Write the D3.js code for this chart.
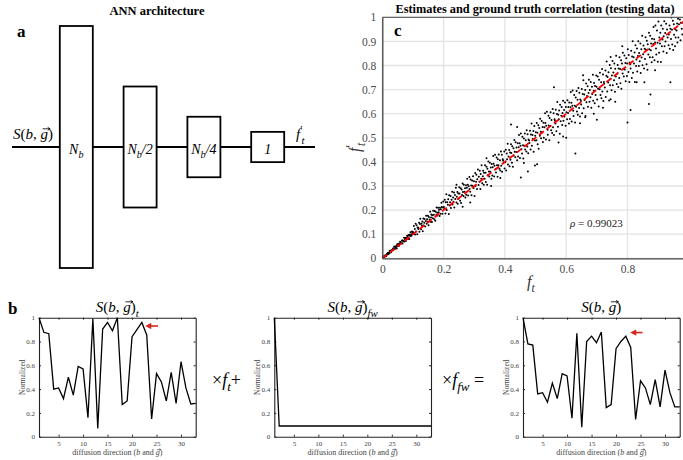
<!DOCTYPE html>
<html>
<head>
<meta charset="utf-8">
<script src="https://cdn.jsdelivr.net/npm/d3@7"></script>
<style>
body { margin: 0; background: #fff; }
svg { display: block; font-family: "Liberation Serif", "Tinos", "Times New Roman", "DejaVu Serif", serif; }
</style>
</head>
<body>
<div id="fig"></div>
<script>
var SERIF = "'Liberation Serif', 'Tinos', 'Times New Roman', 'DejaVu Serif', serif";

// ---- panel a: network layers (relative size to N_b)
var layerLabels = [
  [{ t: "N", it: 1 }, { t: "b", it: 1, sub: 1 }],
  [{ t: "N", it: 1 }, { t: "b", it: 1, sub: 1 }, { t: "/2", it: 1 }],
  [{ t: "N", it: 1 }, { t: "b", it: 1, sub: 1 }, { t: "/4", it: 1 }],
  [{ t: "1", it: 1 }]
];
var layerSize = [1, 0.5, 0.25, 0.125];

// ---- panel b: signals over 33 diffusion directions
var directions = d3.range(1, 34);
var signalT = [1.0, 0.877, 0.866, 0.40, 0.41, 0.32, 0.50, 0.35, 0.59, 0.57, 0.16, 0.99, 0.07, 0.905, 0.96, 0.89, 1.0,
  0.27, 0.30, 0.84, 0.90, 0.96, 0.855, 0.15, 0.53, 0.46, 0.30, 0.54, 0.28, 0.63, 0.41, 0.275, 0.28];
var signalFw = [1.0, 0.09, 0.09, 0.09, 0.09, 0.09, 0.09, 0.09, 0.09, 0.09, 0.09, 0.09, 0.09, 0.09, 0.09, 0.09, 0.09,
  0.09, 0.09, 0.09, 0.09, 0.09, 0.09, 0.09, 0.09, 0.09, 0.09, 0.09, 0.09, 0.09, 0.09, 0.09, 0.09];
var signalMix = [1.0, 0.78, 0.77, 0.36, 0.37, 0.29, 0.45, 0.32, 0.53, 0.51, 0.155, 0.87, 0.08, 0.80, 0.845, 0.79, 0.88,
  0.245, 0.27, 0.74, 0.80, 0.845, 0.75, 0.145, 0.47, 0.41, 0.27, 0.48, 0.25, 0.56, 0.37, 0.25, 0.25];
var dirTicks = [5, 10, 15, 20, 25, 30];
var normTicks = [0, 0.2, 0.4, 0.6, 0.8, 1];
// red arrows: [tail x, head x, y] in data units (plot 1 and plot 3)
var arrowMarks = [[25.3, 22.7, 0.93], null, [25.4, 22.9, 0.875]];

// ---- panel c: f_t vs estimated f_t' (testing data), values x1000
var xTicksC = [0, 0.2, 0.4, 0.6, 0.8];
var yTicksC = [0, 0.1, 0.2, 0.3, 0.4, 0.5, 0.6, 0.7, 0.8, 0.9, 1];
var rho = 0.99023;
var testPts = [
[1,2],[2,1],[4,5],[5,8],[7,7],[8,6],[10,13],[11,12],[13,10],[15,18],[16,16],[18,22],[19,18],[21,23],[22,20],[24,30],[25,24],[27,31],[29,25],[30,32],
[32,34],[33,33],[35,41],[36,33],[38,42],[39,49],[41,39],[43,47],[44,45],[46,52],[47,41],[49,58],[50,50],[52,55],[53,60],[55,52],[57,61],[58,69],[60,59],[61,66],
[63,64],[64,74],[66,61],[67,74],[69,71],[71,85],[72,70],[74,78],[75,84],[77,72],[78,84],[80,80],[81,94],[83,88],[85,81],[86,97],[88,80],[89,98],[91,93],[92,108],
[94,99],[95,94],[97,111],[98,101],[99,107],
[101,108],[103,134],[104,102],[106,122],[107,99],[109,143],[110,111],[112,137],[114,100],[115,128],[117,127],[118,122],[120,148],[121,110],[123,142],[124,164],
[126,121],[128,144],[129,136],[131,153],[132,112],[134,165],[135,136],[137,147],[138,163],[140,132],[142,155],[143,177],[145,143],[146,162],[148,152],[149,177],
[151,137],[152,171],[154,161],[156,193],[157,152],[159,169],[160,182],[162,151],[163,179],[165,166],[166,197],[168,181],[170,162],[171,196],[173,156],[174,193],
[176,180],[177,211],[179,189],[180,178],[182,210],[184,191],[185,201],[187,176],[188,210],[190,185],[191,204],[193,230],[194,213],[196,185],[198,211],[199,236],
[201,213],[203,206],[204,243],[206,186],[207,233],[209,266],[210,200],[212,233],[214,222],[215,245],[217,184],[218,262],[220,219],[221,233],[223,258],[224,209],
[226,243],[228,276],[229,223],[231,252],[232,235],[234,273],[235,211],[237,263],[238,246],[240,293],[242,232],[243,255],[245,275],[246,226],[248,269],[249,247],
[251,295],[252,269],[254,239],[256,291],[257,229],[259,285],[260,263],[262,310],[263,275],[265,259],[266,305],[268,276],[270,291],[271,252],[273,303],[274,264],
[276,293],[277,330],[279,305],[280,261],[282,299],[284,337],[285,288],[287,276],[288,327],[290,302],[291,262],[293,323],[294,301],[296,340],[298,292],[299,320],
[301,258],[303,354],[304,300],[306,318],[307,347],[309,288],[310,328],[312,368],[314,304],[315,338],[317,318],[318,363],[320,288],[321,350],[323,330],[324,386],
[326,311],[328,340],[329,363],[331,305],[332,355],[334,330],[335,386],[337,355],[338,317],[340,380],[342,305],[343,372],[345,346],[346,402],[348,360],[349,339],
[351,396],[352,359],[354,377],[356,330],[357,391],[359,344],[360,378],[362,424],[363,392],[365,339],[366,384],[368,430],[370,371],[371,356],[373,418],[374,386],
[376,338],[377,411],[379,386],[380,431],[382,372],[384,407],[385,364],[387,443],[388,384],[390,430],[391,359],[393,411],[394,406],[396,397],[398,443],[399,373],
[401,399],[403,450],[404,364],[406,435],[407,411],[409,475],[410,389],[412,422],[414,449],[415,382],[417,439],[418,409],[420,473],[421,437],[423,396],[424,465],
[426,380],[428,457],[429,427],[431,491],[432,442],[434,419],[435,482],[437,441],[438,460],[440,407],[442,477],[443,422],[445,461],[446,512],[448,477],[449,416],
[451,467],[452,518],[454,452],[456,435],[457,504],[459,469],[460,414],[462,497],[463,467],[465,518],[466,451],[468,490],[470,443],[471,531],[473,464],[474,515],
[476,436],[477,493],[479,489],[480,478],[482,529],[484,451],[485,514],[487,559],[488,467],[490,512],[491,495],[493,528],[494,442],[496,549],[498,489],[499,509],
[501,523],[503,490],[504,561],[506,521],[507,473],[509,552],[510,455],[512,541],[514,508],[515,579],[517,525],[518,498],[520,570],[521,522],[523,545],[524,483],
[526,562],[527,500],[529,544],[531,602],[532,561],[534,493],[535,550],[537,608],[539,533],[540,513],[542,592],[543,551],[545,490],[546,582],[548,549],[549,606],
[551,531],[552,574],[554,520],[556,620],[557,544],[559,602],[560,512],[562,577],[563,571],[565,559],[566,616],[568,527],[570,599],[571,649],[573,546],[574,596],
[576,577],[577,613],[579,517],[580,637],[582,569],[584,592],[585,628],[587,553],[588,603],[590,654],[591,571],[593,615],[594,588],[596,646],[598,550],[599,628],
[601,606],[603,577],[604,656],[606,603],[607,628],[609,559],[610,646],[612,578],[614,627],[615,690],[617,645],[618,568],[620,633],[621,696],[623,612],[624,590],
[626,678],[628,633],[629,564],[631,667],[632,629],[634,694],[635,609],[637,658],[638,596],[640,707],[642,624],[643,687],[645,588],[646,659],[648,653],[649,638],
[651,703],[652,602],[654,682],[656,739],[657,623],[659,680],[660,657],[662,698],[663,590],[665,725],[666,648],[668,673],[670,714],[671,629],[673,686],[674,741],
[676,650],[677,698],[679,668],[680,732],[682,625],[684,712],[685,682],[687,762],[688,654],[690,695],[691,727],[693,643],[694,715],[696,678],[698,758],[699,712],
[701,659],[703,754],[704,704],[706,630],[707,741],[709,701],[710,770],[712,678],[714,731],[715,664],[717,785],[718,692],[720,763],[721,653],[723,732],[724,724],
[726,709],[728,779],[729,669],[731,757],[732,817],[734,692],[735,752],[737,729],[738,772],[740,655],[742,802],[743,718],[745,745],[746,789],[748,697],[749,758],
[751,819],[752,718],[754,771],[756,739],[757,808],[759,691],[760,786],[762,754],[763,840],[765,723],[766,766],[768,802],[770,711],[771,788],[773,748],[774,834],
[776,785],[777,726],[779,822],[780,704],[782,808],[784,767],[785,853],[787,787],[788,754],[790,841],[791,783],[793,810],[794,735],[796,830],[798,756],[799,808],
[801,867],[803,773],[804,844],[806,732],[807,812],[809,805],[810,788],[812,861],[814,748],[815,837],[817,901],[818,770],[820,834],[821,808],[823,854],[824,732],
[826,884],[828,798],[829,825],[831,871],[832,775],[834,839],[835,901],[837,798],[838,852],[840,818],[842,891],[843,769],[845,867],[846,833],[848,923],[849,801],
[851,847],[852,883],[854,788],[856,870],[857,827],[859,917],[860,865],[862,805],[863,903],[865,782],[866,888],[868,846],[870,936],[871,867],[873,834],[874,923],
[876,863],[877,891],[879,813],[880,911],[882,834],[884,889],[885,960],[887,909],[888,822],[890,895],[891,966],[893,871],[894,846],[896,945],[898,894],[899,816],
[901,983],[903,853],[904,916],[906,891],[907,936],[909,815],[910,966],[912,880],[914,908],[915,953],[917,858],[918,921],[920,984],[921,880],[923,935],[924,900],
[926,973],[928,852],[929,949],[931,916],[932,1005],[934,884],[935,929],[937,966],[938,870],[940,952],[942,910],[943,999],[945,948],[946,887],[948,986],[949,864],
[951,971],[952,928],[954,1018],[956,950],[957,916],[959,1006],[960,945],[962,974],[963,895],[965,994],[966,916],[968,971],[970,1043],[971,991],[973,905],[974,977],
[976,1049],[977,953],[979,929],[980,1027],[982,976],[984,899],[985,1013],[987,972],[988,1044],[990,949],[991,1003],[993,934],[994,1000],[996,964],[998,1027],[999,923],
[452,335],[475,360],[498,385],[505,390],[420,555],[440,545],[462,395],[560,710],[590,505],[600,500],[575,480],[630,435],[645,560],[662,585],[690,600],[700,575],
[655,760],[720,625],[745,660],[760,650],[800,563],[810,615],[783,880],[745,835],[870,640],[875,680],[855,730],[830,730],[890,780],[940,730],[955,880],[985,800],
[355,300],[385,333],[340,415],[262,214],[287,232],[242,305]
];

var W = 683, H = 460;
var svg = d3.select("#fig").append("svg").attr("width", W).attr("height", H);

// writes LaTeX-ish text with italic / sub / sup parts; vec parts get a small arrow on top
function mathText(el, parts, size) {
  var shift = 0, vecs = [];
  el.style("font-family", SERIF);
  parts.forEach(function (p) {
    var target = p.sub ? size * 0.3 : (p.sup ? -size * 0.38 : 0);
    var ts = el.append("tspan")
      .attr("dy", target - shift)
      .attr("dx", p.dx || 0)
      .style("font-style", p.it ? "italic" : "normal")
      .style("font-size", (p.sub || p.sup) ? size * 0.72 + "px" : size + "px")
      .text(p.t);
    if (p.vec) vecs.push(ts);
    shift = target;
  });
  var parent = d3.select(el.node().parentNode);
  vecs.forEach(function (ts) {
    var n = ts.node();
    var s0 = n.getStartPositionOfChar(0), e0 = n.getEndPositionOfChar(0);
    var top = s0.y - size * 0.68;
    var x1 = s0.x + size * 0.14, x2 = e0.x + size * 0.14;
    var hd = Math.max(1.5, size * 0.16);
    parent.append("path")
      .attr("d", "M" + x1 + "," + top + "H" + x2 + "M" + (x2 - hd) + "," + (top - hd * 0.6) + "L" + x2 + "," + top + "L" + (x2 - hd) + "," + (top + hd * 0.6))
      .attr("fill", "none").attr("stroke", el.attr("fill") || "#000").attr("stroke-width", Math.max(0.6, size * 0.055));
  });
  return el;
}

var sbg = [{ t: "S", it: 1 }, { t: "(" }, { t: "b", it: 1 }, { t: ", " }, { t: "g", it: 1, vec: 1 }, { t: ")" }];

// ================= panel a =================
var pa = svg.append("g");
pa.append("text").attr("x", 157).attr("y", 15).attr("text-anchor", "middle")
  .style("font-weight", "bold").style("font-size", "12.5px").text("ANN architecture");
pa.append("text").attr("x", 17).attr("y", 37).style("font-weight", "bold").style("font-size", "17px").text("a");

var lineY = 147;
var layerX = d3.scaleLinear().domain([0, 3]).range([76.3, 267.7]);
var layerH = d3.scaleLinear().domain([0, 1]).range([0, 242]);
var boxW = 33;

pa.append("line").attr("x1", 12).attr("x2", 315).attr("y1", lineY).attr("y2", lineY)
  .attr("stroke", "#000").attr("stroke-width", 1.8);
pa.selectAll(".layer").data(layerSize).enter().append("rect")
  .attr("class", "layer")
  .attr("x", function (d, i) { return layerX(i) - boxW / 2; })
  .attr("y", function (d) { return lineY - layerH(d) / 2; })
  .attr("width", boxW)
  .attr("height", function (d) { return layerH(d); })
  .attr("fill", "#fff").attr("stroke", "#000").attr("stroke-width", 1.8);
layerLabels.forEach(function (parts, i) {
  var t = pa.append("text").attr("x", layerX(i)).attr("y", lineY + 7).attr("text-anchor", "middle");
  mathText(t, parts, 14);
});
mathText(pa.append("text").attr("x", 13).attr("y", 139), sbg, 15);
mathText(pa.append("text").attr("x", 296).attr("y", 139),
  [{ t: "f", it: 1 }, { t: "\u2032", sup: 1 }, { t: "t", it: 1, sub: 1, dx: -1 }], 15);

// ================= panel c =================
var pc = svg.append("g");
var xc = d3.scaleLinear().domain([0, 1]).range([382.3, 688.8]);
var yc = d3.scaleLinear().domain([0, 1]).range([258.3, 17.3]);

pc.append("g").selectAll("line").data(xTicksC).enter().append("line")
  .attr("x1", xc).attr("x2", xc).attr("y1", yc(0)).attr("y2", yc(1))
  .attr("stroke", "#e3e3e3").attr("stroke-width", 1.3);
pc.append("g").selectAll("line").data(yTicksC).enter().append("line")
  .attr("x1", xc(0)).attr("x2", xc(1)).attr("y1", yc).attr("y2", yc)
  .attr("stroke", "#e3e3e3").attr("stroke-width", 1.3);

pc.append("clipPath").attr("id", "clipC").append("rect")
  .attr("x", xc(0)).attr("y", yc(1)).attr("width", xc(1) - xc(0)).attr("height", yc(0) - yc(1));
pc.append("g").attr("clip-path", "url(#clipC)")
  .selectAll("circle").data(testPts).enter().append("circle")
  .attr("cx", function (d) { return xc(d[0] / 1000); })
  .attr("cy", function (d) { return yc(d[1] / 1000); })
  .attr("r", 1.0).attr("fill", "#000");
pc.append("line").attr("x1", xc(0)).attr("y1", yc(0)).attr("x2", xc(1)).attr("y2", yc(1))
  .attr("stroke", "#f00").attr("stroke-width", 1.8).attr("stroke-dasharray", "6,3.5");

var axC = pc.append("g").attr("transform", "translate(0," + yc(0) + ")")
  .call(d3.axisBottom(xc).tickValues(xTicksC).tickSize(0).tickPadding(7).tickFormat(d3.format("~g")));
var ayC = pc.append("g").attr("transform", "translate(" + xc(0) + ",0)")
  .call(d3.axisLeft(yc).tickValues(yTicksC).tickSize(0).tickPadding(6).tickFormat(d3.format("~g")));
pc.append("line").attr("x1", xc(0)).attr("x2", W).attr("y1", yc(1)).attr("y2", yc(1))
  .attr("stroke", "#444").attr("stroke-width", 1);
[axC, ayC].forEach(function (a) {
  a.select(".domain").attr("stroke", "#444").attr("stroke-width", 1.3);
  a.selectAll("text").style("font-family", SERIF).style("font-size", "11.5px").attr("fill", "#4a4a4a");
});

pc.append("text").attr("x", 535).attr("y", 13).attr("text-anchor", "middle")
  .style("font-weight", "bold").style("font-size", "12.3px").text("Estimates and ground truth correlation (testing data)");
pc.append("text").attr("x", 394).attr("y", 36).style("font-weight", "bold").style("font-size", "17px").text("c");
mathText(pc.append("text").attr("x", 527).attr("y", 287).attr("fill", "#333"),
  [{ t: "f", it: 1 }, { t: "t", it: 1, sub: 1 }], 16);
mathText(pc.append("text").attr("transform", "translate(360,152) rotate(-90)").attr("fill", "#333"),
  [{ t: "f", it: 1 }, { t: "\u2032", sup: 1 }, { t: "t", it: 1, sub: 1, dx: -1 }], 16);
mathText(pc.append("text").attr("x", 570).attr("y", 227).attr("fill", "#222"),
  [{ t: "\u03C1", it: 1 }, { t: " = " + rho }], 11);

// ================= panel b =================
var pb = svg.append("g");
var plotLefts = [39, 274.3, 523];
var plotW = 156.7, plotTop = 317.7, plotBot = 436.7;
var series = [signalT, signalFw, signalMix];
var titles = [
  sbg.concat([{ t: "t", it: 1, sub: 1 }]),
  sbg.concat([{ t: "fw", it: 1, sub: 1 }]),
  sbg
];

pb.append("text").attr("x", 8).attr("y", 314).style("font-weight", "bold").style("font-size", "17px").text("b");

var yb = d3.scaleLinear().domain([0, 1]).range([plotBot, plotTop]);
series.forEach(function (vals, k) {
  var x0 = plotLefts[k];
  var xb = d3.scaleLinear().domain([1, 33]).range([x0, x0 + plotW]);
  var g = pb.append("g");
  var fmt = d3.format("~g");
  function styleAx(a) {
    a.select(".domain").attr("stroke", "#222").attr("stroke-width", 1.1);
    a.selectAll(".tick line").attr("stroke", "#222");
    a.selectAll("text").style("font-family", SERIF).style("font-size", "7px").attr("fill", "#444");
  }
  styleAx(g.append("g").attr("transform", "translate(0," + plotBot + ")")
    .call(d3.axisBottom(xb).tickValues(dirTicks).tickSizeInner(-2).tickSizeOuter(0).tickPadding(4).tickFormat(fmt)));
  styleAx(g.append("g").attr("transform", "translate(0," + plotTop + ")")
    .call(d3.axisTop(xb).tickValues(dirTicks).tickSizeInner(-2).tickSizeOuter(0).tickFormat("")));
  styleAx(g.append("g").attr("transform", "translate(" + x0 + ",0)")
    .call(d3.axisLeft(yb).tickValues(normTicks).tickSizeInner(-2).tickSizeOuter(0).tickPadding(4).tickFormat(fmt)));
  styleAx(g.append("g").attr("transform", "translate(" + (x0 + plotW) + ",0)")
    .call(d3.axisRight(yb).tickValues(normTicks).tickSizeInner(-2).tickSizeOuter(0).tickFormat("")));

  g.append("path").datum(vals)
    .attr("d", d3.line().x(function (d, i) { return xb(directions[i]); }).y(function (d) { return yb(d); }))
    .attr("fill", "none").attr("stroke", "#000").attr("stroke-width", 1.3);

  var am = arrowMarks[k];
  if (am) {
    var ax1 = xb(am[0]), ax2 = xb(am[1]), ay = yb(am[2]);
    g.append("line").attr("x1", ax1).attr("x2", ax2 + 5).attr("y1", ay).attr("y2", ay)
      .attr("stroke", "#d9261c").attr("stroke-width", 1.6);
    g.append("path").attr("d", "M" + ax2 + "," + ay + "l6,-3.2l0,6.4z").attr("fill", "#d9261c");
  }

  var cx = x0 + plotW / 2;
  mathText(g.append("text").attr("x", cx).attr("y", 312).attr("text-anchor", "middle"), titles[k], 15);
  var xl = g.append("text").attr("x", cx).attr("y", 455).attr("text-anchor", "middle").attr("fill", "#444");
  mathText(xl, [{ t: "diffusion direction (" }, { t: "b", it: 1 }, { t: " and " }, { t: "g", it: 1, vec: 1 }, { t: ")" }], 8);
  g.append("text").attr("transform", "translate(" + (x0 - 14) + "," + (plotTop + plotBot) / 2 + ") rotate(-90)")
    .attr("text-anchor", "middle").style("font-family", SERIF).style("font-size", "7.5px").attr("fill", "#444").text("Normalized");
});

mathText(pb.append("text").attr("x", 212).attr("y", 386),
  [{ t: "\u00D7" }, { t: "f", it: 1 }, { t: "t", it: 1, sub: 1 }, { t: "+" }], 18);
mathText(pb.append("text").attr("x", 442).attr("y", 386),
  [{ t: "\u00D7" }, { t: "f", it: 1 }, { t: "fw", it: 1, sub: 1 }, { t: " =" }], 18);
</script>
</body>
</html>
